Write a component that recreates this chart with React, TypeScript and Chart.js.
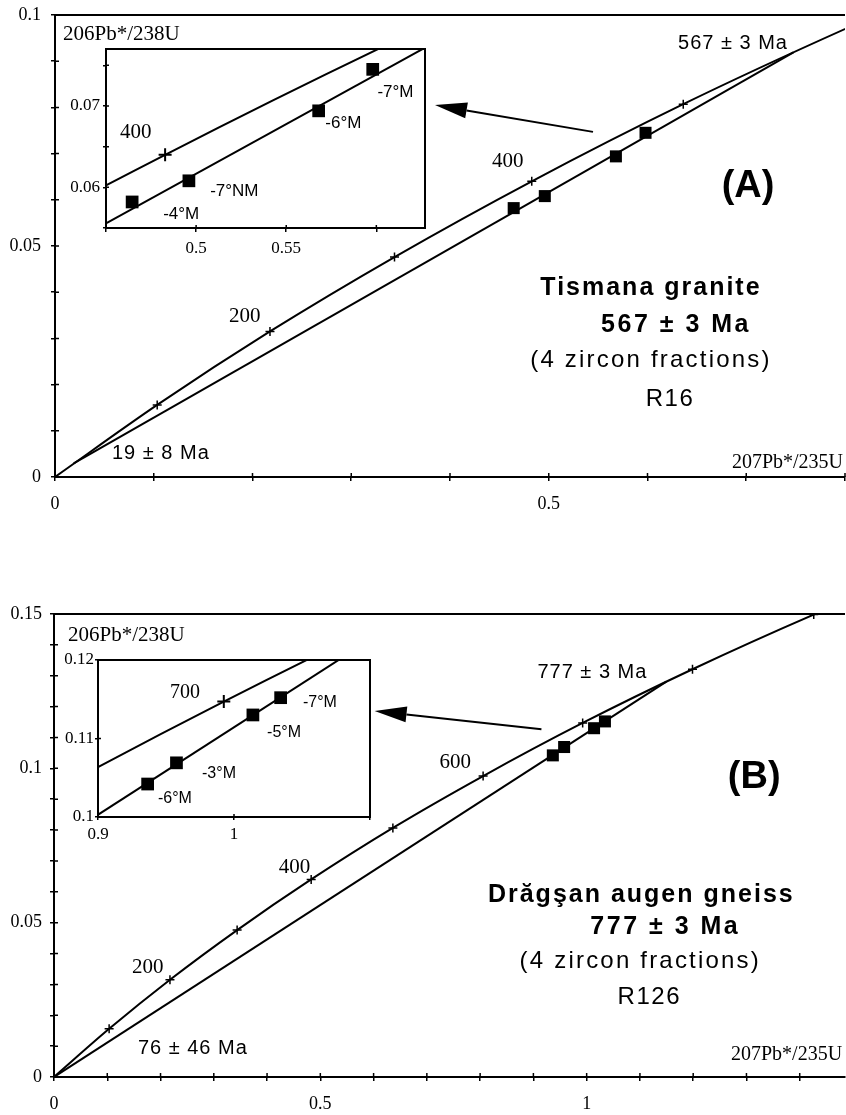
import React, { useEffect, useRef } from "react";
import { Chart, registerables } from "chart.js";

Chart.register(...registerables);

const SERIF = '"Liberation Serif", "Times New Roman", serif';
const SANS = '"Liberation Sans", Arial, Helvetica, sans-serif';
const INK = "#000";

// ---------------- data ----------------
// Concordia reference marks (age, Ma) and their ratios
const CONCORDIA_AGE = [0, 100, 200, 300, 400, 500, 600, 700, 800, 900, 1000];
const CONCORDIA_207_235 = [0, 0.1035, 0.2177, 0.3438, 0.4828, 0.6362, 0.8056, 0.9925, 1.1987, 1.4263, 1.6774];
const CONCORDIA_206_238 = [0, 0.0156, 0.0315, 0.0476, 0.064, 0.0807, 0.0975, 0.1147, 0.1321, 0.1498, 0.1678];

// (A) Tismana granite, R16
const A_DISCORDIA_X = [0.0189, 0.7478];
const A_DISCORDIA_Y = [0.00295, 0.0919];
const A_FRACTION_X = [0.4645, 0.496, 0.568, 0.598];
const A_FRACTION_Y = [0.0582, 0.0608, 0.0694, 0.0745];
const A_FRACTION_LABELS = ["-4°M", "-7°NM", "-6°M", "-7°M"];
const A_X_TICK_LABELS = [0, 0.5];
const A_Y_TICK_LABELS = [0, 0.05, 0.1];
const A_INSET_X_TICK_LABELS = [0.5, 0.55];
const A_INSET_Y_TICK_LABELS = [0.06, 0.07];

// (B) Drăgşan augen gneiss, R126
const B_DISCORDIA_X = [0, 1.1496];
const B_DISCORDIA_Y = [0, 0.1281];
const B_FRACTION_X = [0.9365, 0.9577, 1.0139, 1.0343];
const B_FRACTION_Y = [0.1042, 0.1069, 0.113, 0.1152];
const B_FRACTION_LABELS = ["-6°M", "-3°M", "-5°M", "-7°M"];
const B_X_TICK_LABELS = [0, 0.5, 1];
const B_Y_TICK_LABELS = [0, 0.05, 0.1, 0.15];
const B_INSET_X_TICK_LABELS = [0.9, 1];
const B_INSET_Y_TICK_LABELS = [0.1, 0.11, 0.12];

// ---------------- helpers ----------------
type Note = { text: string; x: number; y: number; font: string; align?: CanvasTextAlign; ls?: number };
type Arrow = { fromX: number; fromY: number; toX: number; toY: number };
type Side = "top" | "left" | "bottom" | "right";

function decorPlugin(opts: { notes: Note[]; arrows: Arrow[]; sides: Side[]; white: boolean; inner: number }) {
  return {
    id: "decor",
    beforeDraw(chart: any) {
      if (!opts.white) return;
      const { ctx, chartArea: a } = chart;
      ctx.save();
      ctx.fillStyle = "#fff";
      ctx.fillRect(a.left, a.top, a.right - a.left, a.bottom - a.top);
      ctx.restore();
    },
    afterDatasetsDraw(chart: any) {
      const { ctx, chartArea: a } = chart;
      const xs = chart.scales.x;
      const ys = chart.scales.y;
      ctx.save();
      ctx.strokeStyle = INK;
      ctx.fillStyle = INK;
      // inward halves of the axis ticks
      ctx.lineWidth = 1.5;
      ctx.beginPath();
      for (const t of xs.ticks) {
        const px = xs.getPixelForValue(t.value);
        ctx.moveTo(px, a.bottom);
        ctx.lineTo(px, a.bottom - opts.inner);
      }
      for (const t of ys.ticks) {
        const py = ys.getPixelForValue(t.value);
        ctx.moveTo(a.left, py);
        ctx.lineTo(a.left + opts.inner, py);
      }
      ctx.stroke();
      // frame
      ctx.lineWidth = 2;
      ctx.beginPath();
      for (const s of opts.sides) {
        if (s === "top") { ctx.moveTo(a.left - 1, a.top); ctx.lineTo(a.right, a.top); }
        if (s === "bottom") { ctx.moveTo(a.left - 1, a.bottom); ctx.lineTo(a.right + 1, a.bottom); }
        if (s === "left") { ctx.moveTo(a.left, a.top - 1); ctx.lineTo(a.left, a.bottom + 1); }
        if (s === "right") { ctx.moveTo(a.right, a.top - 1); ctx.lineTo(a.right, a.bottom + 1); }
      }
      ctx.stroke();
      // arrows
      for (const ar of opts.arrows) {
        const x1 = xs.getPixelForValue(ar.fromX), y1 = ys.getPixelForValue(ar.fromY);
        const x2 = xs.getPixelForValue(ar.toX), y2 = ys.getPixelForValue(ar.toY);
        const ang = Math.atan2(y2 - y1, x2 - x1);
        const L = 32, W = 8;
        const bx = x2 - L * Math.cos(ang), by = y2 - L * Math.sin(ang);
        ctx.lineWidth = 2;
        ctx.beginPath();
        ctx.moveTo(x1, y1);
        ctx.lineTo(bx, by);
        ctx.stroke();
        ctx.beginPath();
        ctx.moveTo(x2, y2);
        ctx.lineTo(bx + W * Math.sin(ang), by - W * Math.cos(ang));
        ctx.lineTo(bx - W * Math.sin(ang), by + W * Math.cos(ang));
        ctx.closePath();
        ctx.fill();
      }
      // text
      ctx.textBaseline = "middle";
      for (const n of opts.notes) {
        ctx.font = n.font;
        ctx.textAlign = n.align || "left";
        (ctx as any).letterSpacing = (n.ls || 0) + "px";
        ctx.fillText(n.text, xs.getPixelForValue(n.x), ys.getPixelForValue(n.y));
      }
      (ctx as any).letterSpacing = "0px";
      ctx.restore();
    },
  };
}

type AxisSpec = { min: number; max: number; step: number; labels: number[]; size: number; tickLen: number; pad: number; fontSize: number };

function axis(spec: AxisSpec, horizontal: boolean) {
  return {
    type: "linear",
    min: spec.min,
    max: spec.max,
    afterFit: (s: any) => {
      if (horizontal) s.height = spec.size;
      else s.width = spec.size;
      // the plot frame is placed exactly by the layout padding
      s.paddingLeft = 0;
      s.paddingRight = 0;
      s.paddingTop = 0;
      s.paddingBottom = 0;
    },
    ticks: {
      stepSize: spec.step,
      autoSkip: false,
      includeBounds: false,
      maxRotation: 0,
      minRotation: 0,
      padding: spec.pad,
      color: INK,
      font: { family: SERIF, size: spec.fontSize },
      callback: (v: number) => {
        const hit = spec.labels.find((l) => Math.abs(l - v) < 1e-9);
        return hit === undefined ? "" : String(hit);
      },
    },
    grid: { drawOnChartArea: false, drawTicks: true, tickLength: spec.tickLen, color: INK, lineWidth: 1.5 },
    border: { display: true, color: INK, width: 2 },
  };
}

function concordiaSet(tickR: number, tickW: number) {
  return {
    data: CONCORDIA_207_235.map((x, i) => ({ x, y: CONCORDIA_206_238[i] })),
    showLine: true,
    borderColor: INK,
    borderWidth: 2,
    cubicInterpolationMode: "monotone",
    capBezierPoints: false,
    pointStyle: "cross",
    pointRadius: CONCORDIA_AGE.map((a) => (a > 0 && a < 1000 ? tickR : 0)),
    pointBorderColor: INK,
    pointBorderWidth: tickW,
    pointBackgroundColor: INK,
    clip: 0,
  };
}

function discordiaSet(xs: number[], ys: number[]) {
  return {
    data: xs.map((x, i) => ({ x, y: ys[i] })),
    showLine: true,
    borderColor: INK,
    borderWidth: 2,
    pointRadius: 0,
    clip: 0,
  };
}

function fractionSet(xs: number[], ys: number[], r: number) {
  return {
    data: xs.map((x, i) => ({ x, y: ys[i] })),
    showLine: false,
    pointStyle: "rect",
    pointRadius: r,
    backgroundColor: INK,
    borderColor: INK,
    pointBackgroundColor: INK,
    pointBorderColor: INK,
    pointBorderWidth: 0,
    clip: 0,
  };
}

type Box = { left: number; top: number; width: number; height: number };

function makeConfig(c: {
  datasets: any[];
  padding: any;
  x: AxisSpec;
  y: AxisSpec;
  notes: Note[];
  arrows: Arrow[];
  sides: Side[];
  white: boolean;
  inner: number;
}) {
  return {
    type: "scatter",
    data: { datasets: c.datasets },
    options: {
      responsive: false,
      maintainAspectRatio: false,
      animation: false,
      devicePixelRatio: 1,
      events: [],
      layout: { padding: c.padding, autoPadding: false },
      plugins: { legend: { display: false }, tooltip: { enabled: false } },
      scales: { x: axis(c.x, true), y: axis(c.y, false) },
    },
    plugins: [decorPlugin({ notes: c.notes, arrows: c.arrows, sides: c.sides, white: c.white, inner: c.inner })],
  };
}

function ChartBox({ box, make }: { box: Box; make: () => any }) {
  const ref = useRef<HTMLCanvasElement>(null);
  useEffect(() => {
    const chart = new Chart(ref.current as HTMLCanvasElement, make());
    return () => chart.destroy();
  }, []);
  return (
    <canvas
      ref={ref}
      width={box.width}
      height={box.height}
      style={{ position: "absolute", left: box.left, top: box.top, width: box.width, height: box.height }}
    />
  );
}

// ---------------- panel configs ----------------
const serif = (s: number) => `${s}px ${SERIF}`;
const sans = (s: number, bold = false) => `${bold ? "bold " : ""}${s}px ${SANS}`;

const makeMainA = () =>
  makeConfig({
    datasets: [concordiaSet(4.5, 1.5), discordiaSet(A_DISCORDIA_X, A_DISCORDIA_Y), fractionSet(A_FRACTION_X, A_FRACTION_Y, 8.5)],
    padding: { top: 15, right: 1, left: 0, bottom: 0 },
    x: { min: 0, max: 0.8, step: 0.1, labels: A_X_TICK_LABELS, size: 43, tickLen: 4, pad: 12, fontSize: 18 },
    y: { min: 0, max: 0.1, step: 0.01, labels: A_Y_TICK_LABELS, size: 55, tickLen: 4, pad: 10, fontSize: 18 },
    notes: [
      { text: "206Pb*/238U", x: 0.0081, y: 0.0957, font: serif(21) },
      { text: "567 ± 3 Ma", x: 0.6309, y: 0.0939, font: sans(20), ls: 1 },
      { text: "400", x: 0.4425, y: 0.0682, font: serif(21) },
      { text: "200", x: 0.1762, y: 0.0348, font: serif(21) },
      { text: "(A)", x: 0.7018, y: 0.0628, font: sans(38, true), align: "center" },
      { text: "Tismana granite", x: 0.6035, y: 0.0409, font: sans(25, true), align: "center", ls: 2 },
      { text: "567 ± 3 Ma", x: 0.6289, y: 0.0329, font: sans(25, true), align: "center", ls: 2.5 },
      { text: "(4 zircon fractions)", x: 0.6035, y: 0.0253, font: sans(24), align: "center", ls: 2.2 },
      { text: "R16", x: 0.6228, y: 0.0167, font: sans(24), align: "center", ls: 1.5 },
      { text: "19 ± 8 Ma", x: 0.0577, y: 0.005, font: sans(20), ls: 1 },
      { text: "207Pb*/235U", x: 0.798, y: 0.003, font: serif(20), align: "right" },
    ],
    arrows: [{ fromX: 0.5448, fromY: 0.0747, toX: 0.3848, toY: 0.0805 }],
    sides: ["top"],
    white: false,
    inner: 4,
  });

const makeInsetA = () =>
  makeConfig({
    datasets: [concordiaSet(6.5, 2), discordiaSet(A_DISCORDIA_X, A_DISCORDIA_Y), fractionSet(A_FRACTION_X, A_FRACTION_Y, 9)],
    padding: { top: 9, right: 5, left: 0, bottom: 0 },
    x: { min: 0.45, max: 0.627, step: 0.05, labels: A_INSET_X_TICK_LABELS, size: 37, tickLen: 4, pad: 6, fontSize: 17 },
    y: { min: 0.055, max: 0.077, step: 0.005, labels: A_INSET_Y_TICK_LABELS, size: 46, tickLen: 3, pad: 3, fontSize: 17 },
    notes: [
      { text: "400", x: 0.4578, y: 0.0668, font: serif(21) },
      { text: A_FRACTION_LABELS[0], x: 0.4817, y: 0.0567, font: sans(17) },
      { text: A_FRACTION_LABELS[1], x: 0.5078, y: 0.0595, font: sans(17) },
      { text: A_FRACTION_LABELS[2], x: 0.5717, y: 0.0679, font: sans(17) },
      { text: A_FRACTION_LABELS[3], x: 0.6006, y: 0.0717, font: sans(17) },
    ],
    arrows: [],
    sides: ["top", "left", "bottom", "right"],
    white: true,
    inner: 3,
  });

const makeMainB = () =>
  makeConfig({
    datasets: [concordiaSet(4.5, 1.5), discordiaSet(B_DISCORDIA_X, B_DISCORDIA_Y), fractionSet(B_FRACTION_X, B_FRACTION_Y, 8.5)],
    padding: { top: 74, right: 1, left: 0, bottom: 0 },
    x: { min: 0, max: 1.485, step: 0.1, labels: B_X_TICK_LABELS, size: 38, tickLen: 4, pad: 12, fontSize: 18 },
    y: { min: 0, max: 0.15, step: 0.01, labels: B_Y_TICK_LABELS, size: 54, tickLen: 4, pad: 8, fontSize: 18 },
    notes: [
      { text: "206Pb*/238U", x: 0.0263, y: 0.1432, font: serif(21) },
      { text: "777 ± 3 Ma", x: 0.9076, y: 0.1312, font: sans(20), ls: 1 },
      { text: "600", x: 0.7238, y: 0.102, font: serif(21) },
      { text: "400", x: 0.4219, y: 0.068, font: serif(21) },
      { text: "200", x: 0.1463, y: 0.0356, font: serif(21) },
      { text: "(B)", x: 1.3145, y: 0.0969, font: sans(38, true), align: "center" },
      { text: "Drăgşan augen gneiss", x: 1.1026, y: 0.059, font: sans(25, true), align: "center", ls: 2 },
      { text: "777 ± 3 Ma", x: 1.1476, y: 0.0486, font: sans(25, true), align: "center", ls: 2.5 },
      { text: "(4 zircon fractions)", x: 1.1007, y: 0.0373, font: sans(24), align: "center", ls: 2.2 },
      { text: "R126", x: 1.1176, y: 0.0259, font: sans(24), align: "center", ls: 1.5 },
      { text: "76 ± 46 Ma", x: 0.1575, y: 0.0091, font: sans(20), ls: 1 },
      { text: "207Pb*/235U", x: 1.4795, y: 0.0071, font: serif(20), align: "right" },
    ],
    arrows: [{ fromX: 0.9151, fromY: 0.1127, toX: 0.6019, toY: 0.1186 }],
    sides: ["top"],
    white: false,
    inner: 4,
  });

const makeInsetB = () =>
  makeConfig({
    datasets: [concordiaSet(6.5, 2), discordiaSet(B_DISCORDIA_X, B_DISCORDIA_Y), fractionSet(B_FRACTION_X, B_FRACTION_Y, 9)],
    padding: { top: 12, right: 4, left: 0, bottom: 0 },
    x: { min: 0.9, max: 1.1, step: 0.1, labels: B_INSET_X_TICK_LABELS, size: 31, tickLen: 3, pad: 4, fontSize: 17 },
    y: { min: 0.1, max: 0.12, step: 0.01, labels: B_INSET_Y_TICK_LABELS, size: 40, tickLen: 3, pad: 1, fontSize: 17 },
    notes: [
      { text: "700", x: 0.953, y: 0.1158, font: serif(20) },
      { text: B_FRACTION_LABELS[0], x: 0.9441, y: 0.1024, font: sans(16) },
      { text: B_FRACTION_LABELS[1], x: 0.9765, y: 0.1055, font: sans(16) },
      { text: B_FRACTION_LABELS[2], x: 1.0243, y: 0.1108, font: sans(16) },
      { text: B_FRACTION_LABELS[3], x: 1.0507, y: 0.1146, font: sans(16) },
    ],
    arrows: [],
    sides: ["top", "left", "bottom", "right"],
    white: true,
    inner: 3,
  });

export default function App() {
  return (
    <div style={{ position: "absolute", left: 0, top: 0, width: 846, height: 1115, background: "#fff", overflow: "hidden" }}>
      <ChartBox box={{ left: 0, top: 0, width: 846, height: 520 }} make={makeMainA} />
      <ChartBox box={{ left: 0, top: 540, width: 846, height: 575 }} make={makeMainB} />
      <ChartBox box={{ left: 60, top: 40, width: 370, height: 225 }} make={makeInsetA} />
      <ChartBox box={{ left: 58, top: 648, width: 316, height: 200 }} make={makeInsetB} />
    </div>
  );
}
